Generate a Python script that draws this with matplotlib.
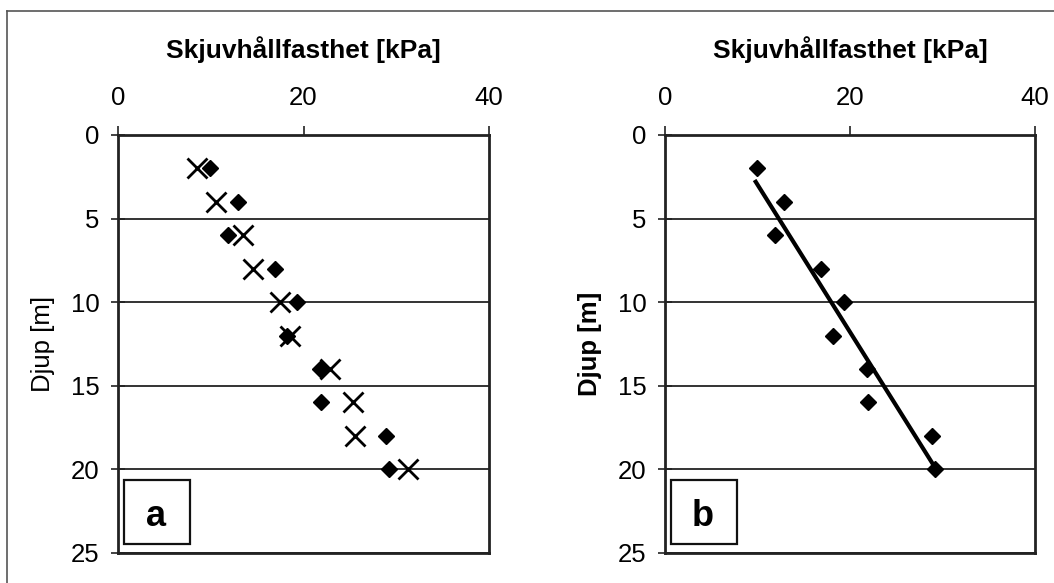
import matplotlib
matplotlib.use('Agg')
import matplotlib.pyplot as plt
from matplotlib.lines import Line2D
from matplotlib.patches import Rectangle

plt.rcParams['font.family'] = ['Liberation Sans', 'DejaVu Sans']

# Data
depth = [2, 4, 6, 8, 10, 12, 14, 16, 18, 20]
shear_diamond = [9.9, 12.9, 11.9, 16.9, 19.3, 18.2, 21.8, 21.9, 28.9, 29.2]
shear_cross = [8.5, 10.6, 13.5, 14.6, 17.5, 18.5, 22.8, 25.3, 25.6, 31.3]
trend_shear = [9.8, 29.2]
trend_depth = [2.8, 19.9]

xticks = [0, 20, 40]
yticks = [0, 5, 10, 15, 20, 25]

fig = plt.figure(figsize=(10.54, 5.83), dpi=100)

# thin frame around the figure (top and left visible)
fig.add_artist(Line2D([0.0066, 1.0], [0.981, 0.981], transform=fig.transFigure,
                      color='#555555', lw=1.2))
fig.add_artist(Line2D([0.0066, 0.0066], [0.0, 0.981], transform=fig.transFigure,
                      color='#555555', lw=1.2))

ax_a = fig.add_axes([0.112, 0.0515, 0.352, 0.717])
ax_b = fig.add_axes([0.631, 0.0515, 0.351, 0.717])


def style_axis(ax, bold_ylabel):
    ax.set_xlim(0, 40)
    ax.set_ylim(25, 0)
    ax.set_xticks(xticks)
    ax.set_yticks(yticks)
    ax.xaxis.tick_top()
    ax.xaxis.set_label_position('top')
    ax.tick_params(axis='x', direction='out', length=6.5, width=1.2, pad=11.5,
                   labelsize=18.5, color='#222222')
    ax.tick_params(axis='y', direction='inout', length=10, width=1.2, pad=8.5,
                   labelsize=18.5, color='#222222')
    ax.tick_params(top=True, bottom=False, labelbottom=False)
    ax.set_xlabel('Skjuvhållfasthet [kPa]', fontsize=19, fontweight='bold')
    ax.xaxis.set_label_coords(0.5, 1.185)
    ax.set_ylabel('Djup [m]', fontsize=18.5,
                  fontweight='bold' if bold_ylabel else 'normal')
    ax.yaxis.set_label_coords(-0.17, 0.5)
    ax.grid(axis='y', color='#111111', lw=1.2)
    ax.set_axisbelow(True)
    for sp in ax.spines.values():
        sp.set_linewidth(2)
        sp.set_color('#222222')


def label_box(ax, letter):
    ax.add_patch(Rectangle((0.016, 0.021), 0.178, 0.153, transform=ax.transAxes,
                           fill=False, ec='#111111', lw=1.6, zorder=4))
    ax.text(0.102, 0.088, letter, transform=ax.transAxes, ha='center', va='center',
            fontsize=26, fontweight='bold', zorder=5)


# panel a
style_axis(ax_a, False)
ax_a.plot(shear_diamond, depth, linestyle='none', marker='D', ms=8,
          color='black', zorder=3)
ax_a.plot(shear_cross, depth, linestyle='none', marker='x', ms=15, mew=2,
          color='black', zorder=3)
label_box(ax_a, 'a')

# panel b
style_axis(ax_b, True)
ax_b.plot(shear_diamond, depth, linestyle='none', marker='D', ms=8,
          color='black', zorder=3)
ax_b.plot(trend_shear, trend_depth, color='black', lw=3, zorder=3)
label_box(ax_b, 'b')

plt.savefig('out.png', dpi=100)
